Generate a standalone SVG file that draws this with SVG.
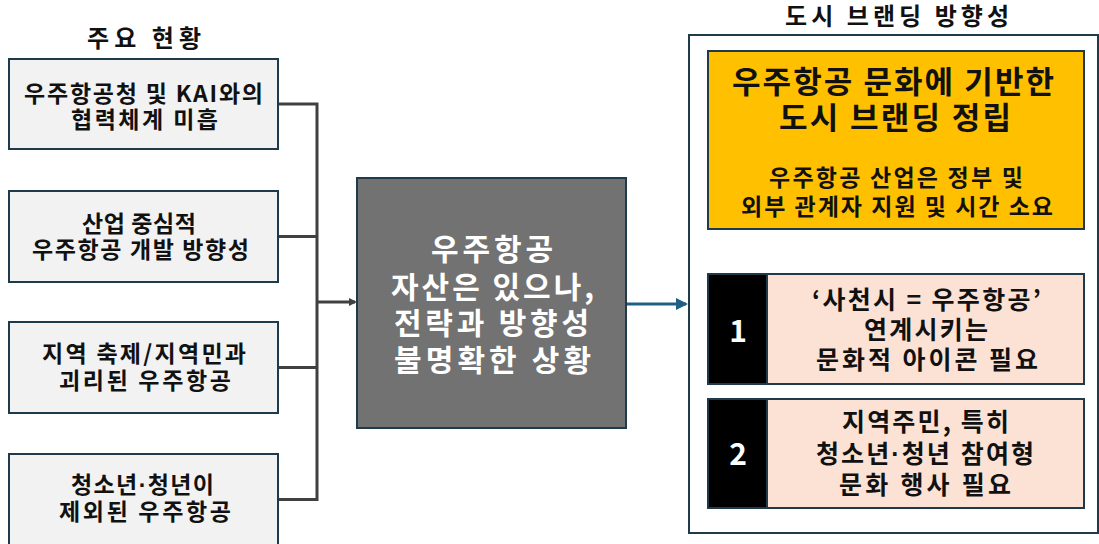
<svg xmlns="http://www.w3.org/2000/svg" width="1099" height="544" viewBox="0 0 1099 544">
<defs>
<style>
text{font-family:"Noto Sans CJK KR","Noto Sans",sans-serif;font-weight:700;text-anchor:middle;fill:#111}
.box{stroke:#1f3a4a;stroke-width:2}
.left{fill:#f2f2f2}
.lt{font-size:23px}
.title{font-size:24px}
.ct{font-size:30px;fill:#fff}
.big{font-size:31px}
.sm{font-size:23px}
.it{font-size:25px}
.num{font-size:30px;fill:#fff}
text.mix{font-family:"Liberation Sans","Noto Sans CJK KR",sans-serif}
.gray{stroke:#404040;stroke-width:3;fill:none}
.blue{stroke:#1f5f85;stroke-width:3;fill:none}
</style>
<marker id="ag" markerWidth="8" markerHeight="8" refX="6" refY="4" orient="auto" markerUnits="userSpaceOnUse"><path d="M0,0 L8,4 L0,8 Z" fill="#404040"/></marker>
<marker id="ab" markerWidth="12" markerHeight="12" refX="10" refY="6" orient="auto" markerUnits="userSpaceOnUse"><path d="M0,0 L12,6 L0,12 Z" fill="#1f5f85"/></marker>
</defs>
<rect width="1099" height="544" fill="#fff"/>
<text class="title" x="144" y="47" textLength="114" lengthAdjust="spacing">주요 현황</text>
<text class="title" x="897" y="25" textLength="224" lengthAdjust="spacing">도시 브랜딩 방향성</text>
<g id="connectors">
<path class="gray" d="M278,104 H317 M278,236.5 H317 M278,367.5 H317 M278,499.5 H317 M317,102.5 V501"/>
<path class="gray" d="M317,302 H355" marker-end="url(#ag)"/>
<path class="blue" d="M626,304 H686" marker-end="url(#ab)"/>
<path class="blue" d="M890,229 V272" marker-end="url(#ab)"/>
</g>
<g id="n1"><rect class="box left" x="9" y="59" width="269" height="90"/>
<text class="lt" x="143.5" y="101.5" textLength="239" lengthAdjust="spacing">우주항공청 및 KAI와의</text><text class="lt" x="144.5" y="127.5" textLength="147" lengthAdjust="spacing">협력체계 미흡</text></g>
<g id="n2"><rect class="box left" x="9" y="191" width="269" height="91"/>
<text class="lt" x="139" y="232" textLength="114" lengthAdjust="spacing">산업 중심적</text><text class="lt" x="140.5" y="258" textLength="217" lengthAdjust="spacing">우주항공 개발 방향성</text></g>
<g id="n3"><rect class="box left" x="9" y="322" width="269" height="91"/>
<text class="lt" x="144" y="361.5" textLength="204" lengthAdjust="spacing">지역 축제/지역민과</text><text class="lt" x="145" y="388.5" textLength="172" lengthAdjust="spacing">괴리된 우주항공</text></g>
<g id="n4"><rect class="box left" x="9" y="454" width="269" height="92"/>
<text class="lt mix" x="142.5" y="492.5" textLength="143" lengthAdjust="spacing">청소년·청년이</text><text class="lt" x="145" y="519.5" textLength="172" lengthAdjust="spacing">제외된 우주항공</text></g>
<g id="center"><rect class="box" x="357" y="178" width="269" height="250" fill="#727272"/>
<text class="ct" x="492" y="259.5" textLength="122" lengthAdjust="spacing">우주항공</text><text class="ct" x="492.5" y="297.5" textLength="203" lengthAdjust="spacing">자산은 있으나,</text><text class="ct" x="491.5" y="333.5" textLength="195" lengthAdjust="spacing">전략과 방향성</text><text class="ct" x="492.5" y="370.5" textLength="197" lengthAdjust="spacing">불명확한 상황</text></g>
<g id="outer"><rect class="box" x="689" y="35" width="409" height="498" fill="#fff"/></g>
<g id="goal"><rect class="box" x="708" y="51" width="376" height="178" fill="#ffc000"/>
<text class="big" x="893" y="92.5" textLength="322" lengthAdjust="spacing">우주항공 문화에 기반한</text><text class="big" x="895" y="129" textLength="232" lengthAdjust="spacing">도시 브랜딩 정립</text>
<text class="sm" x="896" y="185.5" textLength="254" lengthAdjust="spacing">우주항공 산업은 정부 및</text><text class="sm" x="897" y="214.5" textLength="312" lengthAdjust="spacing">외부 관계자 지원 및 시간 소요</text></g>
<g id="item1"><rect class="box" x="708" y="274" width="376" height="110" fill="#fbe2d5"/><rect x="708" y="274" width="59" height="110" fill="#000" stroke="#1f3a4a" stroke-width="2"/>
<text class="num" x="738" y="342">1</text>
<text class="it" x="926.5" y="308.5" textLength="229" lengthAdjust="spacing">‘사천시 = 우주항공’</text><text class="it" x="926" y="338.5" textLength="124" lengthAdjust="spacing">연계시키는</text><text class="it" x="927" y="368.5" textLength="222" lengthAdjust="spacing">문화적 아이콘 필요</text></g>
<g id="item2"><rect class="box" x="708" y="399" width="376" height="109" fill="#fbe2d5"/><rect x="708" y="399" width="59" height="109" fill="#000" stroke="#1f3a4a" stroke-width="2"/>
<text class="num" x="738" y="465">2</text>
<text class="it" x="925.5" y="430.5" textLength="167" lengthAdjust="spacing">지역주민, 특히</text><text class="it mix" x="925" y="462.5" textLength="218" lengthAdjust="spacing">청소년·청년 참여형</text><text class="it" x="925" y="493.5" textLength="172" lengthAdjust="spacing">문화 행사 필요</text></g>
</svg>
